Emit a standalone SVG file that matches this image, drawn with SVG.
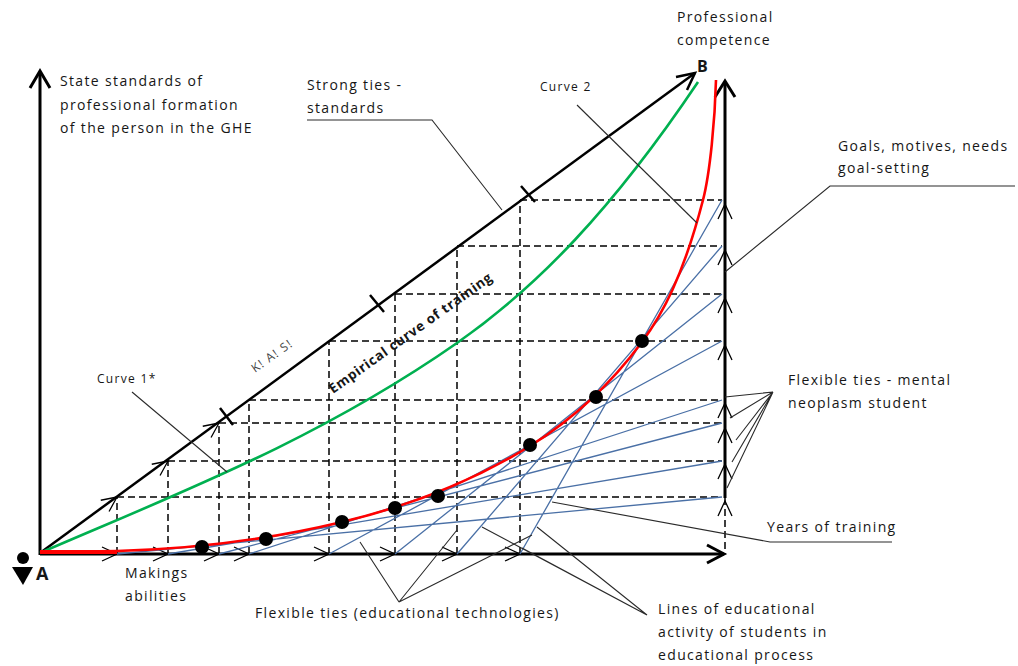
<svg xmlns="http://www.w3.org/2000/svg" xmlns:xlink="http://www.w3.org/1999/xlink" width="1018" height="666" viewBox="0 0 1018 666">
<style>
.t{font-family:"Open Sans","Liberation Sans",sans-serif;font-size:14px;letter-spacing:1.35px;fill:#161616}
.s{font-size:12px;letter-spacing:1.3px}
.b{font-weight:bold}
.fA{font-size:18px;letter-spacing:0}
.fB{font-size:16px;letter-spacing:0}
.fE{font-size:13.5px;letter-spacing:0.7px}
.g4{fill:#444}
.ax{stroke:#000;stroke-width:3;fill:none}
.dg{stroke:#000;stroke-width:2.5;fill:none}
.dash{stroke:#000;stroke-width:1.5;stroke-dasharray:7 4;fill:none}
.bl{stroke:#4a70a6;stroke-width:1.3;fill:none}
.ld{stroke:#2a2a2a;stroke-width:1.1;fill:none}
.ch{stroke:#000;stroke-width:1.3;fill:none}
</style>
<defs>
<path id="chev" d="M-15,-7 L0,0 L-15,7" class="ch"/>
</defs>
<rect width="1018" height="666" fill="#fff"/>

<g id="axes">
<path class="ax" d="M40,555 V72"/>
<path class="ax" d="M30,88 L40,71 L50,88"/>
<path class="ax" d="M40,554 H724"/>
<path class="ax" d="M707,545 L724,554 L707,563"/>
<path class="ax" d="M725,498 V82"/>
<path class="ax" d="M715,97 L725,81 L735,97"/>
<path class="dash" d="M725,498 V554"/>
<path class="dg" d="M40,553 L695,73"/>
<path class="dg" d="M676,77 L695,73 L687,90"/>
<path class="dg" d="M220,408 L233,425 M370,295 L384,312 M521,186 L535,202"/>
</g>

<g id="grid">
<path class="dash" d="M117,497 H722 M168,461 H722 M219,423 H722 M249,400 H722 M329,341 H722 M395,294 H722 M457,246 H722 M520,200 H722"/>
<path class="dash" d="M117,554 V497 M168,554 V461 M219,554 V423 M249,554 V400 M329,554 V341 M395,554 V294 M457,554 V246 M520,554 V200"/>
</g>

<g id="chevrons">
<use href="#chev" transform="translate(117,554)"/>
<use href="#chev" transform="translate(168,554)"/>
<use href="#chev" transform="translate(219,554)"/>
<use href="#chev" transform="translate(249,554)"/>
<use href="#chev" transform="translate(329,554)"/>
<use href="#chev" transform="translate(395,554)"/>
<use href="#chev" transform="translate(457,554)"/>
<use href="#chev" transform="translate(520,554)"/>
<use href="#chev" transform="translate(725,204) rotate(-90)"/>
<use href="#chev" transform="translate(725,250) rotate(-90)"/>
<use href="#chev" transform="translate(725,298) rotate(-90)"/>
<use href="#chev" transform="translate(725,345) rotate(-90)"/>
<use href="#chev" transform="translate(725,403) rotate(-90)"/>
<use href="#chev" transform="translate(725,428) rotate(-90)"/>
<use href="#chev" transform="translate(725,464) rotate(-90)"/>
<use href="#chev" transform="translate(725,501) rotate(-90)"/>
<use href="#chev" transform="translate(117,497) rotate(-36.3)"/>
<use href="#chev" transform="translate(168,461) rotate(-36.3)"/>
<use href="#chev" transform="translate(219,423) rotate(-36.3)"/>
</g>

<g id="blue-lines">
<path class="bl" d="M117,554 L722,497 M168,554 L722,461 M219,554 L722,423 M249,554 L722,400 M329,554 L722,341 M395,554 L722,294 M457,554 L722,246 M520,554 L722,200"/>
</g>

<g id="curve2-green">
<path fill="none" stroke="#00b050" stroke-width="2.6" d="M40,553 C179,493 318,440 457,343 C537,287 612,210 698,82"/>
</g>

<g id="empirical-red">
<path fill="none" stroke="#ff0000" stroke-width="4" d="M40,552 H117"/>
<path fill="none" stroke="#ff0000" stroke-width="2.6" d="M40,552 L117,551 C192,549 267,540 342,522 C405,507 467,485 530,446 C567,423 605,392 642,342 C662,315 683,277 703,200 C710,173 715,120 716,80"/>
</g>

<g id="points" fill="#000">
<circle cx="202" cy="547" r="7"/>
<circle cx="266" cy="539" r="7"/>
<circle cx="342" cy="522" r="7"/>
<circle cx="395" cy="508" r="7"/>
<circle cx="438" cy="496" r="7"/>
<circle cx="530" cy="445" r="7"/>
<circle cx="596" cy="397" r="7"/>
<circle cx="642" cy="341" r="7"/>
</g>

<g id="connectors">
<path class="ld" d="M307,120 H432 L502,210"/>
<path class="ld" d="M577,105 L697,223"/>
<path class="ld" d="M1015,186 H830 L725,272"/>
<path class="ld" d="M132,392 L227,472"/>
<path class="ld" d="M892,542 H770 L552,502"/>
<path class="ld" d="M773,392 L725,397 M773,392 L730,418 M773,392 L736,440 M773,392 L732,462 M773,392 L727,488"/>
<path class="ld" d="M399,602 L360,542 M399,602 L457,530 M399,602 L532,535"/>
<path class="ld" d="M647,615 L482,527 M647,615 L537,527 M647,615 L522,548"/>
</g>

<g id="point-A">
<circle cx="23" cy="558" r="6" fill="#000"/>
<path d="M12,567 H33 L23,585 Z" fill="#000"/>
<text class="t b fA" x="36" y="580">A</text>
</g>
<g id="point-B"><text class="t b fB" x="697" y="72">B</text></g>

<g id="label-state"><text class="t" x="60" y="86">State standards of</text><text class="t" x="60" y="110">professional formation</text><text class="t" x="60" y="133">of the person in the GHE</text></g>
<g id="label-strong"><text class="t" x="307" y="90">Strong ties -</text><text class="t" x="307" y="113">standards</text></g>
<g id="label-curve2"><text class="t s" x="540" y="91">Curve 2</text></g>
<g id="label-competence"><text class="t" x="677" y="22">Professional</text><text class="t" x="677" y="45">competence</text></g>
<g id="label-goals"><text class="t" x="838" y="151">Goals, motives, needs</text><text class="t" x="838" y="173">goal-setting</text></g>
<g id="label-empirical"><text class="t b fE" transform="translate(333,394) rotate(-35.5)">Empirical curve of training</text></g>
<g id="label-kas"><text class="t s g4" transform="translate(255,373) rotate(-35.5)">K! A! S!</text></g>
<g id="label-curve1"><text class="t s" x="97" y="383">Curve 1*</text></g>
<g id="label-mental"><text class="t" x="788" y="385">Flexible ties - mental</text><text class="t" x="788" y="408">neoplasm student</text></g>
<g id="label-years"><text class="t" x="767" y="532">Years of training</text></g>
<g id="label-makings"><text class="t" x="125" y="578">Makings</text><text class="t" x="125" y="601">abilities</text></g>
<g id="label-flex-tech"><text class="t" x="255" y="618">Flexible ties (educational technologies)</text></g>
<g id="label-lines"><text class="t" x="658" y="614">Lines of educational</text><text class="t" x="658" y="637">activity of students in</text><text class="t" x="658" y="660">educational process</text></g>
</svg>
